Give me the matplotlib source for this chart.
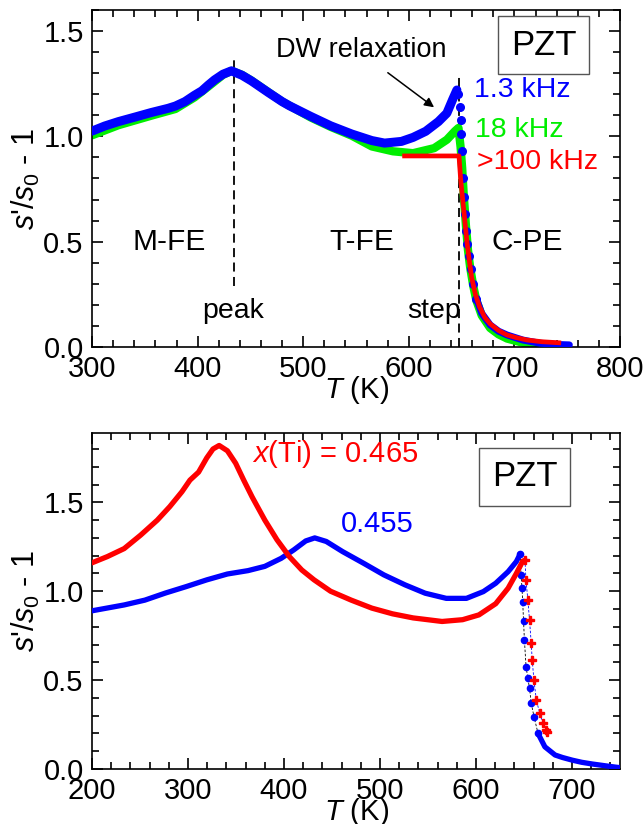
import matplotlib

matplotlib.use("Agg")
import matplotlib.pyplot as plt
from matplotlib.ticker import MultipleLocator

plt.rcParams["font.family"] = ["Liberation Sans", "DejaVu Sans"]
plt.rcParams["mathtext.fontset"] = "custom"
plt.rcParams["mathtext.rm"] = "Liberation Sans"
plt.rcParams["mathtext.it"] = "Liberation Sans:italic"

BLUE = "#0000ff"
GREEN = "#00ee00"
RED = "#ff0000"

# --- top panel: x(Ti)=0.455 at three frequencies ---
top_blue_T = [300, 312, 325, 341, 356, 372, 379, 388, 397, 404, 410, 416, 424, 432, 442, 451, 467, 480, 487,
              507, 526, 546, 565, 577, 593, 604, 616, 628, 636, 641.5, 645.5]
top_blue_s = [1.025, 1.049, 1.07, 1.092, 1.113, 1.133, 1.144, 1.165, 1.195, 1.216, 1.243, 1.268, 1.295, 1.311, 1.29, 1.263, 1.208, 1.165, 1.145,
              1.095, 1.05, 1.011, 0.98, 0.968, 0.976, 0.995, 1.024, 1.07, 1.11, 1.175, 1.22]
top_blue_drop_T = [647, 648, 649, 649.5, 650.5, 651.5, 652.5, 653.5, 654.5, 655.5, 657, 658.5, 661, 664]
top_blue_drop_s = [1.20, 1.14, 1.08, 1.01, 0.93, 0.80, 0.71, 0.63, 0.55, 0.49, 0.43, 0.37, 0.30, 0.23]
top_blue_tail_T = [664, 669, 677, 685, 693, 708, 724, 740, 752]
top_blue_tail_s = [0.23, 0.16, 0.105, 0.075, 0.057, 0.033, 0.018, 0.012, 0.01]

top_green_T = [300, 325, 356, 379, 397, 410, 424, 432, 442, 451, 467, 480, 507, 526, 546, 565, 585, 604, 624, 636, 643.5, 647,
               649, 650.5, 652, 654, 656, 658, 661, 664, 669, 677, 685, 693, 708, 724, 740]
top_green_s = [1.005, 1.053, 1.098, 1.13, 1.185, 1.236, 1.292, 1.311, 1.292, 1.265, 1.21, 1.165, 1.09, 1.045, 1.003, 0.952, 0.929, 0.92, 0.944, 0.984, 1.024, 1.04,
               0.95, 0.85, 0.72, 0.58, 0.46, 0.38, 0.29, 0.22, 0.15, 0.09, 0.06, 0.04, 0.02, 0.008, 0.0]

top_red_T = [596, 647.5, 649, 651, 653, 655, 657, 659.5, 663, 667, 672, 677, 685, 693, 702, 712, 726, 742]
top_red_s = [0.907, 0.907, 0.80, 0.70, 0.60, 0.50, 0.42, 0.33, 0.25, 0.19, 0.14, 0.11, 0.078, 0.057, 0.044, 0.033, 0.025, 0.02]

peak_T = 434
step_T = 647.5

# --- bottom panel: two compositions ---
bot_red_T = [200, 216, 233.5, 250.7, 268, 281, 293.7, 302, 311, 319.5, 326, 332.4, 341, 349.6, 358, 366.8, 380, 392.6, 405.5,
             418.4, 431.3, 448.5, 470, 491.5, 513, 534.5, 564.6, 586, 603, 620.5, 633.4, 642, 648.4, 651]
bot_red_s = [1.16, 1.195, 1.24, 1.316, 1.40, 1.476, 1.56, 1.625, 1.67, 1.75, 1.80, 1.82, 1.79, 1.72, 1.625, 1.53, 1.40, 1.29, 1.195,
             1.12, 1.064, 1.0, 0.95, 0.905, 0.873, 0.85, 0.83, 0.84, 0.867, 0.93, 1.017, 1.10, 1.167, 1.175]
bot_red_drop_T = [651, 652, 654, 655.7, 657.5, 658.5, 660.3, 662.8, 666.4, 669.8, 672.8, 674]
bot_red_drop_s = [1.175, 1.063, 0.95, 0.838, 0.707, 0.613, 0.50, 0.388, 0.313, 0.257, 0.219, 0.21]

bot_blue_T = [200, 233.5, 255, 276.5, 298, 319.5, 341, 362.5, 380, 397, 410, 422.6, 432, 444, 461, 483, 504, 526, 547, 569, 590,
              607.6, 620.5, 633.4, 642, 646]
bot_blue_s = [0.89, 0.923, 0.95, 0.99, 1.026, 1.064, 1.097, 1.116, 1.14, 1.185, 1.232, 1.283, 1.30, 1.28, 1.223, 1.157, 1.092, 1.036, 0.989, 0.96, 0.96,
              0.998, 1.045, 1.11, 1.167, 1.21]
bot_blue_drop_T = [646, 646.9, 647.9, 648.6, 649.5, 650.4, 652.1, 654, 655.7, 657.5, 660.4, 664.6]
bot_blue_drop_s = [1.21, 1.09, 1.016, 0.94, 0.83, 0.725, 0.575, 0.51, 0.454, 0.37, 0.294, 0.2]
bot_blue_tail_T = [664.6, 671.7, 682.3, 690, 700.2, 710, 721.5, 735, 746.4, 750]
bot_blue_tail_s = [0.2, 0.125, 0.079, 0.065, 0.05, 0.038, 0.028, 0.018, 0.01, 0.008]


def style_axes(ax, xmin, xmax, xminor, ymax):
    ax.set_xlim(xmin, xmax)
    ax.set_ylim(0, ymax)
    ax.xaxis.set_major_locator(MultipleLocator(100))
    ax.xaxis.set_minor_locator(MultipleLocator(xminor))
    ax.yaxis.set_major_locator(MultipleLocator(0.5))
    ax.yaxis.set_minor_locator(MultipleLocator(0.1))
    ax.yaxis.set_major_formatter(plt.FuncFormatter(lambda v, p: f"{v:.1f}"))
    ax.tick_params(which="both", direction="in", top=True, right=True, width=1.2, labelsize=21)
    ax.tick_params(which="major", length=8)
    ax.tick_params(which="minor", length=5)
    ax.tick_params(axis="x", pad=6)
    ax.tick_params(axis="y", pad=6)
    for sp in ax.spines.values():
        sp.set_linewidth(1.2)
    ax.set_xlabel(r"$T$ (K)", fontsize=21, labelpad=-7)
    ax.set_ylabel(r"$s$'/$s_0$ - 1", fontsize=22, labelpad=1)


fig = plt.figure(figsize=(6.44, 8.24), dpi=100, facecolor="white")
ax1 = fig.add_axes([0.1429, 0.5789, 0.8199, 0.409])
ax2 = fig.add_axes([0.1429, 0.0667, 0.8199, 0.4078])

# top panel
ax1.plot(top_green_T, top_green_s, color=GREEN, lw=6, solid_capstyle="round", zorder=2)
ax1.plot(top_blue_T, top_blue_s, color=BLUE, lw=6.5, solid_capstyle="round", solid_joinstyle="round", zorder=3)
ax1.plot(top_blue_drop_T, top_blue_drop_s, "o", color=BLUE, ms=5.5, zorder=3)
ax1.plot(top_blue_tail_T, top_blue_tail_s, color=BLUE, lw=5, solid_capstyle="round", zorder=3)
ax1.plot(top_red_T, top_red_s, color=RED, lw=3.4, zorder=4)

ax1.plot([peak_T, peak_T], [0.29, 1.37], color="black", lw=1.3, ls=(0, (5, 3)), zorder=1)
ax1.plot([step_T, step_T], [0.0, 1.30], color="black", lw=1.3, ls=(0, (5, 3)), zorder=1)

ax1.text(555, 1.41, "DW relaxation", fontsize=19.5, ha="center", va="center")
ax1.annotate("", xy=(626, 1.13), xytext=(578, 1.31),
             arrowprops=dict(arrowstyle="-|>", color="black", lw=1.1, mutation_scale=14))
ax1.text(662, 1.22, "1.3 kHz", color=BLUE, fontsize=20.5, ha="left", va="center")
ax1.text(663, 1.03, "18 kHz", color=GREEN, fontsize=20.5, ha="left", va="center")
ax1.text(665, 0.88, ">100 kHz", color=RED, fontsize=20.5, ha="left", va="center")
ax1.text(373, 0.50, "M-FE", fontsize=21.5, ha="center", va="center")
ax1.text(555, 0.50, "T-FE", fontsize=21.5, ha="center", va="center")
ax1.text(712, 0.50, "C-PE", fontsize=21.5, ha="center", va="center")
ax1.text(434, 0.17, "peak", fontsize=20.5, ha="center", va="center")
ax1.text(624, 0.17, "step", fontsize=20.5, ha="center", va="center")
ax1.text(0.855, 0.895, "PZT", transform=ax1.transAxes, fontsize=25, ha="center", va="center",
         bbox=dict(boxstyle="square,pad=0.36", fc="white", ec="#555555", lw=1.0))
style_axes(ax1, 300, 800, 20, 1.6)

# bottom panel
ax2.plot(bot_blue_T, bot_blue_s, color=BLUE, lw=3.8, solid_capstyle="round", solid_joinstyle="round", zorder=3)
ax2.plot(bot_blue_drop_T, bot_blue_drop_s, color="black", lw=0.6, ls=(0, (3, 2)), zorder=2)
ax2.plot(bot_blue_drop_T, bot_blue_drop_s, "o", color=BLUE, ms=4.5, zorder=3)
ax2.plot(bot_blue_tail_T, bot_blue_tail_s, color=BLUE, lw=3.8, solid_capstyle="round", zorder=3)
ax2.plot(bot_red_T, bot_red_s, color=RED, lw=3.8, solid_capstyle="round", solid_joinstyle="round", zorder=4)
ax2.plot(bot_red_drop_T, bot_red_drop_s, color=BLUE, lw=0.6, ls=(0, (3, 2)), zorder=2)
ax2.plot(bot_red_drop_T, bot_red_drop_s, "P", color=RED, ms=6, zorder=4)

ax2.text(367, 1.77, r"$x$(Ti) = 0.465", color=RED, fontsize=21, ha="left", va="center")
ax2.text(459, 1.38, "0.455", color=BLUE, fontsize=21, ha="left", va="center")
ax2.text(0.819, 0.87, "PZT", transform=ax2.transAxes, fontsize=25, ha="center", va="center",
         bbox=dict(boxstyle="square,pad=0.36", fc="white", ec="#555555", lw=1.0))
style_axes(ax2, 200, 750, 20, 1.89)

fig.savefig("out.png", dpi=100, facecolor="white")
